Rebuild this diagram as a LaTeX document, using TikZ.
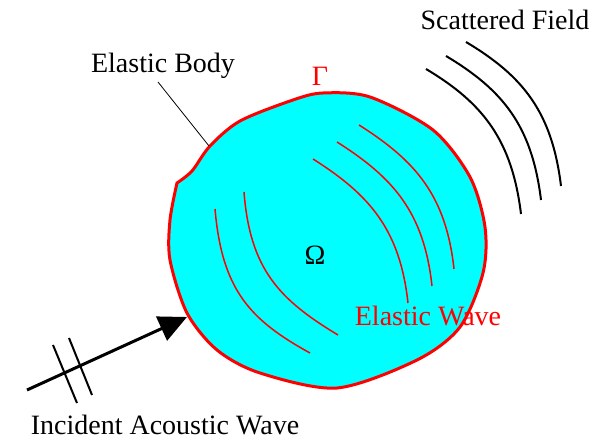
\documentclass[tikz,border=0pt]{standalone}
\usepackage{fontspec}
\setmainfont{Liberation Serif}
\usetikzlibrary{arrows.meta}
\definecolor{bodycyan}{rgb}{0,1,1}

\begin{document}
\begin{tikzpicture}[x=0.5pt, y=-0.5pt, >=Stealth,
  font=\fontsize{14}{16}\selectfont,
  innerwave/.style={red, line width=0.75pt},
  outerwave/.style={black, line width=1pt}]
  \useasboundingbox (0,0) rectangle (616,438);
  % body
  \draw[red, line width=1.5pt, fill=bodycyan] plot[smooth, tension=0.5] coordinates {
    (177,183) (192,171) (210,146) (240,121) (293,100) (323,93) (370,97) (433,130)
    (470,177) (485,227) (483,273) (460,327) (417,360) (337,388) (260,373) (217,350)
    (187,313) (170,260) (170,220) (177,183)} -- cycle;
  % elastic waves inside
  \draw[innerwave] (215,209) .. controls (222,290) and (250,320) .. (310,353);
  \draw[innerwave] (244,192) .. controls (250,270) and (280,300) .. (338,335);
  \draw[innerwave] (313,159) .. controls (370,195) and (400,230) .. (408,303);
  \draw[innerwave] (337,142) .. controls (394,178) and (424,213) .. (432,286);
  \draw[innerwave] (359,125) .. controls (416,161) and (446,196) .. (454,269);
  % scattered field
  \draw[outerwave] (426,69) .. controls (483,103) and (512,140) .. (521,214);
  \draw[outerwave] (446,56) .. controls (503,90) and (532,126) .. (541,200);
  \draw[outerwave] (466,42) .. controls (523,76) and (552,112) .. (561,186);
  % incident wave
  \coordinate (inc0) at (27,390);
  \coordinate (inc1) at (187,317);
  \draw[line width=1.5pt, arrows={-Triangle[length=14pt, width=13pt]}] (inc0) -- (inc1);
  \draw[line width=1pt] (53,345) -- (77,403);
  \draw[line width=1pt] (69,338) -- (92,395);
  % labels
  \node (bodylbl) at (163,66) {Elastic Body};
  \coordinate (bodypt) at (209,146);
  \draw[line width=0.4pt] (158,82) -- (bodypt);
  \node[red] (gamma) at (320,76) {Γ};
  \node (omega) at (315,255) {Ω};
  \node[red] (wavelbl) at (428,316) {Elastic Wave};
  \node (scatlbl) at (505,20) {Scattered Field};
  \node (inclbl) at (165,425) {Incident Acoustic Wave};
\end{tikzpicture}
\end{document}
